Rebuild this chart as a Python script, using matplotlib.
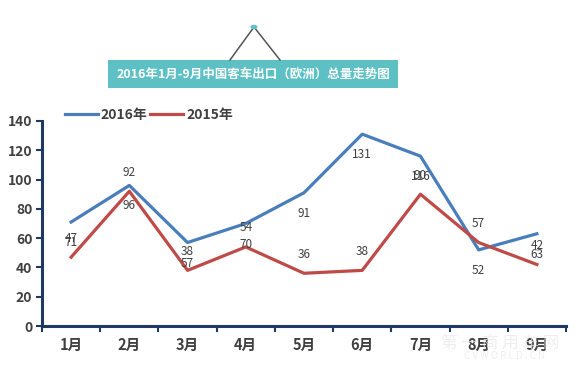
import matplotlib.pyplot as plt
import numpy as np
from matplotlib.patches import Rectangle, Circle
from matplotlib.lines import Line2D

plt.rcParams['font.family'] = ['Noto Sans CJK SC', 'DejaVu Sans']

# datos
meses = ['1月', '2月', '3月', '4月', '5月', '6月', '7月', '8月', '9月']
ventas_2016 = [71, 96, 57, 70, 91, 131, 116, 52, 63]
ventas_2015 = [47, 92, 38, 54, 36, 38, 90, 57, 42]
titulo = '2016年1月-9月中国客车出口（欧洲）总量走势图'

color_azul = '#4A7EBB'
color_rojo = '#BE4B48'
color_eje = '#1F3864'
color_texto = '#404040'
color_caja = '#5CC0C4'

fig = plt.figure(figsize=(5.83, 3.68), dpi=100, facecolor='white')
ax = fig.add_axes([42 / 583, 1 - 326 / 368, (566 - 42) / 583, (326 - 121) / 368])

x = np.arange(len(meses))
l16, = ax.plot(x, ventas_2016, color=color_azul, lw=2.3, label='2016年', zorder=3)
l15, = ax.plot(x, ventas_2015, color=color_rojo, lw=2.3, label='2015年', zorder=3)

# etiquetas de datos (como en el original: azul debajo, rojo encima)
for xi, v in zip(x, ventas_2016):
    ax.annotate(str(v), (xi, v), xytext=(0, -14.8), textcoords='offset points',
                ha='center', va='center', fontsize=8.5, color=color_texto, zorder=4)
for xi, v in zip(x, ventas_2015):
    ax.annotate(str(v), (xi, v), xytext=(0, 13.7), textcoords='offset points',
                ha='center', va='center', fontsize=8.5, color=color_texto, zorder=4)

ax.set_xlim(-0.5, len(meses) - 0.5)
ax.set_ylim(0, 140)
ax.set_yticks(np.arange(0, 141, 20))
ax.set_yticklabels([str(v) for v in range(0, 141, 20)], fontsize=10,
                   fontweight='bold', color=color_texto)
ax.set_xticks(np.arange(-0.5, len(meses), 1.0))
ax.set_xticklabels([])
ax.set_xticks(x, minor=True)
ax.set_xticklabels(meses, minor=True, fontsize=10.5, fontweight='bold', color=color_texto)
ax.tick_params(axis='x', which='minor', length=0, pad=8)
ax.tick_params(axis='x', which='major', length=4, width=1.5, color=color_eje, direction='out')
ax.tick_params(axis='y', length=4, width=1.5, color=color_eje, direction='out', pad=3)

for s in ['top', 'right']:
    ax.spines[s].set_visible(False)
for s in ['left', 'bottom']:
    ax.spines[s].set_color(color_eje)
    ax.spines[s].set_linewidth(2.2)

# leyenda
leg = fig.legend(handles=[l16, l15], loc='center left', bbox_to_anchor=(52 / 583, 1 - 115 / 368),
                 ncol=2, frameon=False, fontsize=10, handlelength=2.4, handletextpad=0.2,
                 columnspacing=0.2)
for t in leg.get_texts():
    t.set_color(color_texto)
    t.set_fontweight('bold')

# caja de titulo
fig.patches.append(Rectangle((108 / 583, 1 - 88 / 368), 290 / 583, 28 / 368,
                             transform=fig.transFigure, facecolor=color_caja,
                             edgecolor='none', zorder=1))
fig.text(253 / 583, 1 - 74 / 368, titulo, ha='center', va='center', fontsize=9,
         fontweight='bold', color='white', zorder=2)
fig.lines.append(Line2D([230 / 583, 254 / 583, 280 / 583],
                        [1 - 60 / 368, 1 - 27 / 368, 1 - 60 / 368],
                        transform=fig.transFigure, color='#555555', lw=1.1))
fig.patches.append(Circle((254 / 583, 1 - 27 / 368), 3.5 / 583, transform=fig.transFigure,
                          facecolor=color_caja, edgecolor='none', zorder=3))

# marca de agua
fig.text(500 / 583, 1 - 343 / 368, '第 一 商 用 车 网', ha='center', va='center',
         fontsize=12, color='#e8e8e8', alpha=0.7, zorder=5)
fig.text(505 / 583, 1 - 356 / 368, 'C V W O R L D . C N', ha='center', va='center',
         fontsize=7, color='#e8e8e8', alpha=0.7, zorder=5)

fig.savefig('out.png', dpi=100, facecolor='white')
